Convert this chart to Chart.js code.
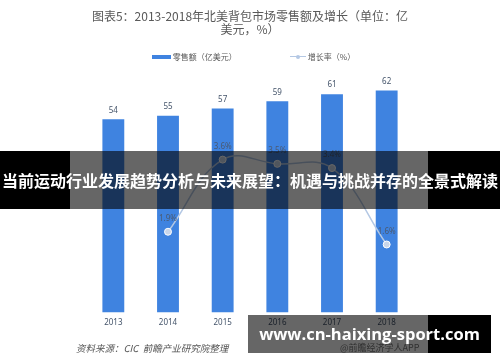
<html>
<head>
  <meta charset="utf-8">
  <script src="https://cdn.jsdelivr.net/npm/chart.js"></script>
  <style>
    body { margin: 0; background: #fff; font-family: "Noto Sans CJK SC", "Noto Sans", sans-serif; }
    #wrap { position: relative; width: 500px; height: 362px; overflow: hidden; }
    #chart { position: absolute; left: 0; top: 0; }
    .title { position: absolute; left: 0; width: 500px; text-align: center; font-size: 12px; color: #595959; line-height: 13px; }
    .legend { position: absolute; top: 50px; font-size: 8px; color: #595959; line-height: 12px; white-space: nowrap; }
    .source { position: absolute; left: 76px; top: 341px; font-size: 9.5px; font-style: italic; color: #555; }
    .app { position: absolute; left: 340px; top: 341px; font-size: 9px; color: #777; }
    .band { position: absolute; }
    .banner-text { position: absolute; left: 0; top: 151px; width: 500px; height: 58px; line-height: 58px; text-align: center; color: #fff; font-weight: bold; font-size: 16px; white-space: nowrap; }
    .site-text { position: absolute; left: 248px; top: 315px; width: 243px; height: 38px; line-height: 38px; text-align: center; color: #fff; font-weight: bold; font-size: 16.5px; font-family: "Open Sans", "Noto Sans", sans-serif; }
  </style>
</head>
<body>
  <div id="wrap">
    <canvas id="chart" width="500" height="362"></canvas>
    <div class="title" style="top: 9px;">图表5：2013-2018年北美背包市场零售额及增长（单位：亿</div>
    <div class="title" style="top: 22px;">美元，%）</div>
    <div class="legend" style="left: 152px;">
      <span style="display:inline-block;width:19px;height:4px;background:#3f83e0;vertical-align:middle;"></span>
      <span style="vertical-align:middle;">零售额（亿美元）</span>
    </div>
    <div class="legend" style="left: 290px;">
      <span style="display:inline-block;position:relative;width:16px;height:4px;vertical-align:middle;">
        <span style="position:absolute;left:0;top:1.5px;width:16px;height:1px;background:#b4c8e4;"></span>
        <span style="position:absolute;left:6px;top:0;width:4px;height:4px;border-radius:2px;background:#b4c8e4;"></span>
      </span>
      <span style="vertical-align:middle;">增长率（%）</span>
    </div>
    <div class="source">资料来源：CIC&nbsp; 前瞻产业研究院整理</div>
    <div class="app">@前瞻经济学人APP</div>

    <!-- top banner -->
    <div class="band" style="left:0;top:151px;width:70px;height:58px;background:#000;"></div>
    <div class="band" style="left:70px;top:151px;width:358px;height:58px;background:rgba(0,0,0,0.6);"></div>
    <div class="band" style="left:428px;top:151px;width:72px;height:58px;background:#000;"></div>
    <div class="banner-text">当前运动行业发展趋势分析与未来展望：机遇与挑战并存的全景式解读</div>

    <!-- bottom site box -->
    <div class="band" style="left:248px;top:315px;width:180px;height:38px;background:rgba(0,0,0,0.6);"></div>
    <div class="band" style="left:428px;top:315px;width:63px;height:38px;background:#000;"></div>
    <div class="site-text">www.cn-haixing-sport.com</div>
  </div>

  <script>
    // data
    const years = ['2013', '2014', '2015', '2016', '2017', '2018'];
    const sales = [54, 55, 57, 59, 61, 62];
    const growth = [null, 1.9, 3.6, 3.5, 3.4, 1.6];

    // value labels above bars and points
    const valueLabels = {
      id: 'valueLabels',
      afterDatasetsDraw(chart) {
        const ctx = chart.ctx;
        ctx.save();
        ctx.textAlign = 'center';
        ctx.textBaseline = 'middle';
        ctx.font = '8px "Noto Sans", sans-serif';
        chart.data.datasets.forEach((ds, i) => {
          const meta = chart.getDatasetMeta(i);
          meta.data.forEach((el, j) => {
            const v = ds.data[j];
            if (v === null) return;
            if (ds.type === 'bar') {
              ctx.fillStyle = '#44546a';
              ctx.fillText(v, el.x, el.y - 9);
            } else {
              ctx.fillStyle = '#4a5a72';
              ctx.fillText(v.toFixed(1) + '%', el.x, el.y - 13);
            }
          });
        });
        ctx.restore();
      }
    };

    const ctx = document.getElementById('chart').getContext('2d');
    const chart = new Chart(ctx, {
      data: {
        labels: years,
        datasets: [{
          type: 'line',
          label: '增长率（%）',
          data: growth,
          yAxisID: 'y2',
          borderColor: '#b4c8e4',
          borderWidth: 1.5,
          pointBackgroundColor: '#c9d6ea',
          pointBorderColor: '#ffffff',
          pointBorderWidth: 1,
          pointRadius: 3.5,
          tension: 0.4,
          fill: false,
          order: 0
        }, {
          type: 'bar',
          label: '零售额（亿美元）',
          data: sales,
          yAxisID: 'y',
          backgroundColor: '#3f83e0',
          barPercentage: 0.4,
          categoryPercentage: 1,
          order: 1
        }]
      },
      options: {
        responsive: false,
        animation: false,
        layout: { padding: { left: 86, right: 86, top: 62, bottom: 28 } },
        plugins: {
          legend: { display: false },
          tooltip: { enabled: false }
        },
        scales: {
          x: {
            grid: { display: false, drawTicks: false },
            border: { display: false },
            ticks: { color: '#44546a', font: { size: 8, family: '"Noto Sans", sans-serif' }, padding: 6 }
          },
          y: { display: false, min: 0, max: 70 },
          y2: { display: false, min: 0, max: 5.9 }
        }
      },
      plugins: [valueLabels]
    });
  </script>
</body>
</html>
